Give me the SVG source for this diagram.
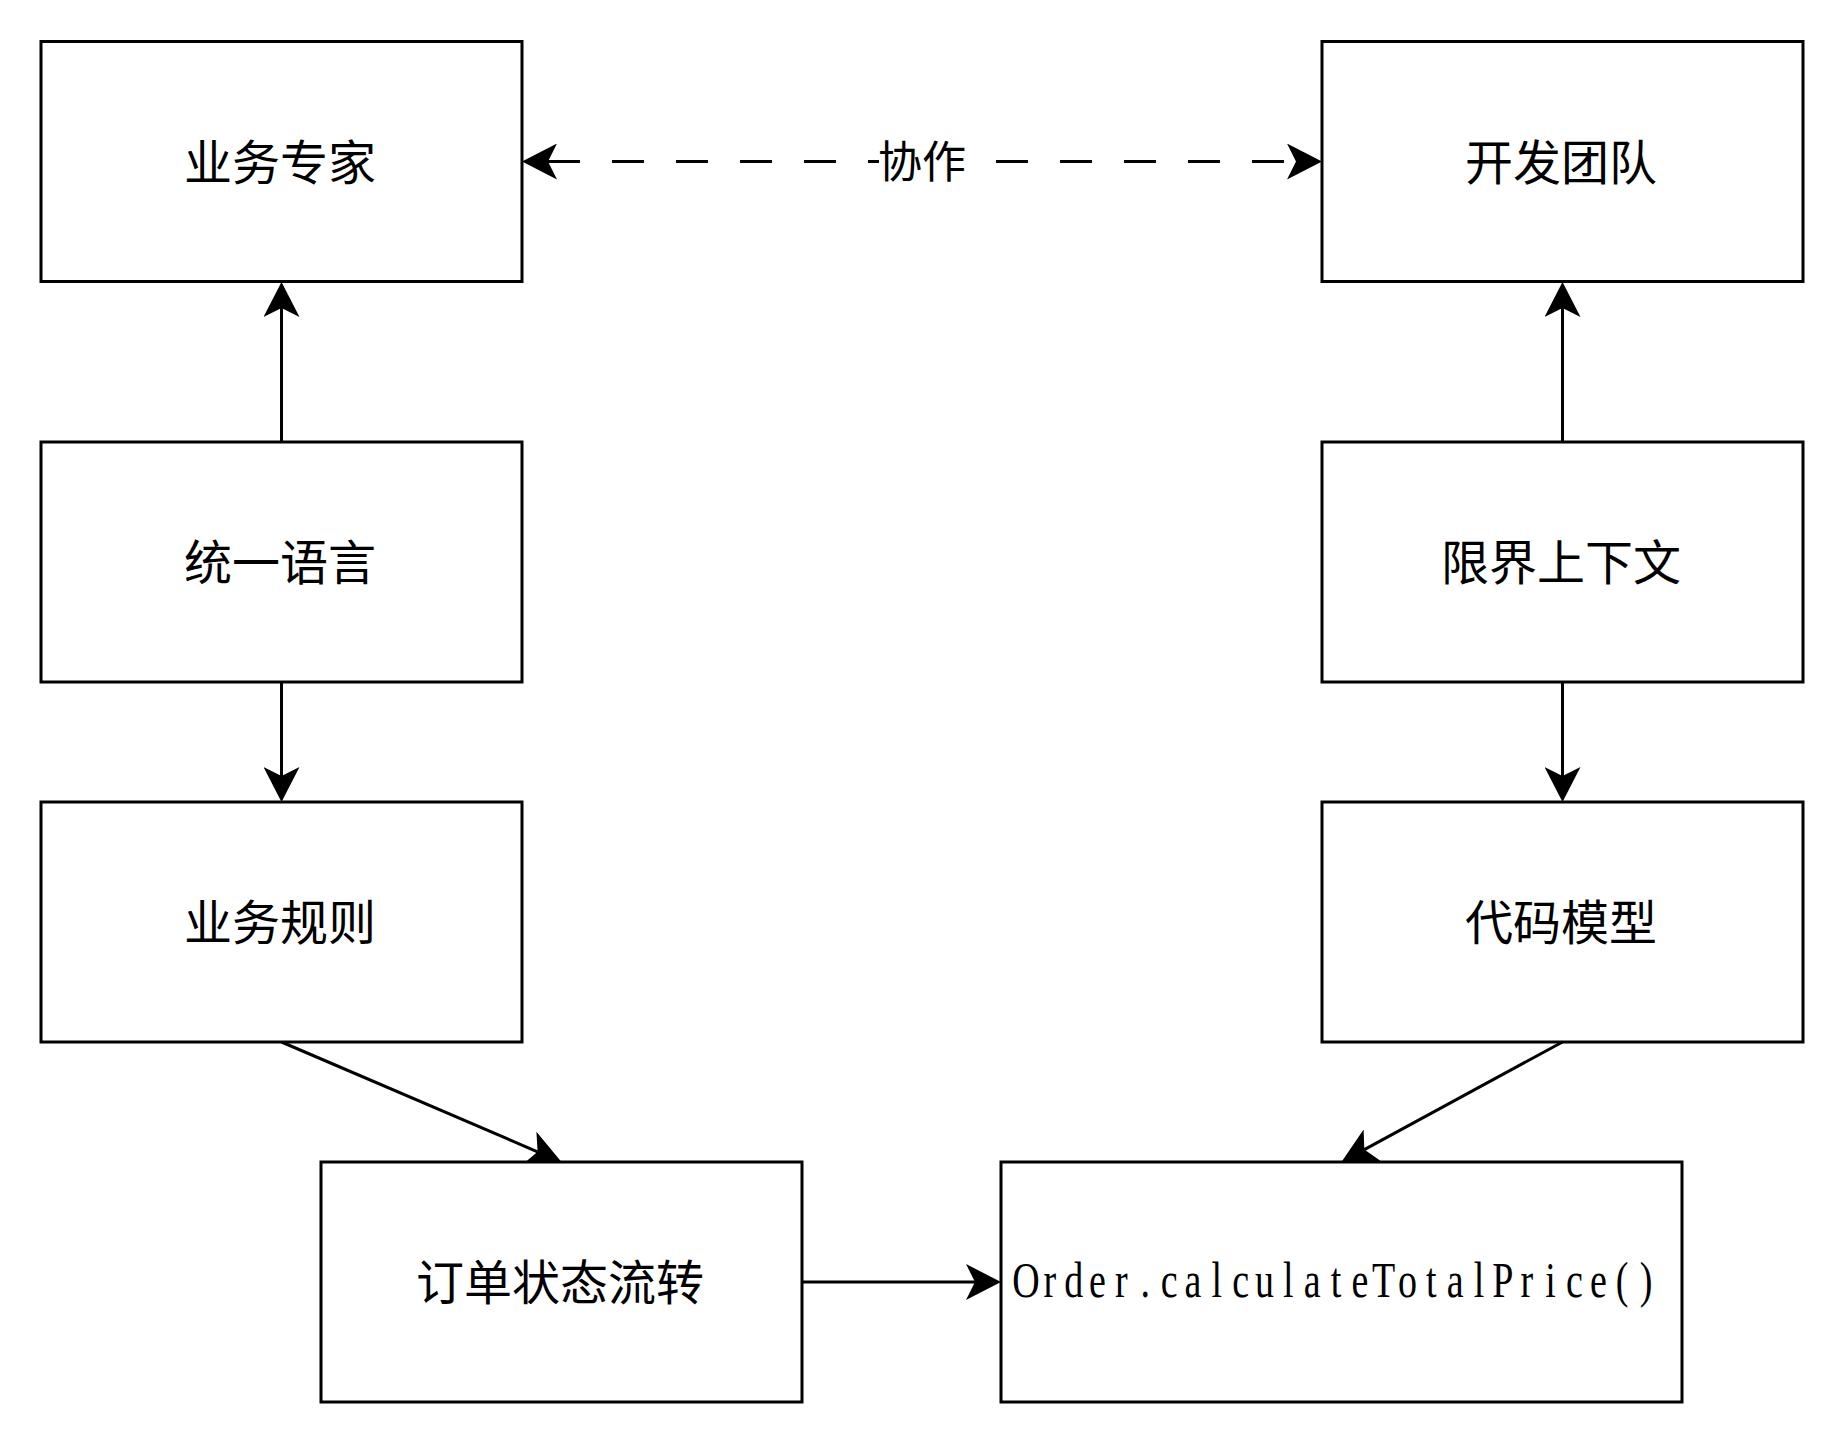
<svg xmlns="http://www.w3.org/2000/svg" width="1844" height="1444" viewBox="0 0 1844 1444">
<style>
.box{fill:#fff;stroke:#000;stroke-width:3}
.lbl{font-family:"Noto Sans CJK SC",sans-serif;font-size:48px;fill:#000;text-anchor:middle}
.edge{stroke:#000;stroke-width:3;fill:none}
.code{font-family:"Liberation Serif",serif;font-size:50px;fill:#000;text-anchor:middle}
</style>
<defs>
<marker id="arr" viewBox="0 0 35 36" refX="9" refY="18" markerWidth="35" markerHeight="36" markerUnits="userSpaceOnUse" orient="auto-start-reverse">
<path d="M0,0 L35,18 L0,36 L9,18 Z" fill="#000" stroke="none"/>
</marker>
</defs>
<rect width="1844" height="1444" fill="#fff"/>
<g id="connectors">
<line class="edge" x1="281.5" y1="442" x2="281.5" y2="308" marker-end="url(#arr)"/>
<line class="edge" x1="281.5" y1="682" x2="281.5" y2="776" marker-end="url(#arr)"/>
<line class="edge" x1="1562.5" y1="442" x2="1562.5" y2="308" marker-end="url(#arr)"/>
<line class="edge" x1="1562.5" y1="682" x2="1562.5" y2="776" marker-end="url(#arr)"/>
<line class="edge" x1="281.5" y1="1042" x2="537.6" y2="1151.8" marker-end="url(#arr)"/>
<line class="edge" x1="1562.5" y1="1042" x2="1364.3" y2="1149.6" marker-end="url(#arr)"/>
<line class="edge" x1="802" y1="1282" x2="975" y2="1282" marker-end="url(#arr)"/>
<g id="collab">
<line class="edge" x1="548" y1="161.5" x2="1296" y2="161.5" stroke-dasharray="32 32" marker-start="url(#arr)" marker-end="url(#arr)"/>
<rect x="879" y="138" width="87" height="48" fill="#fff"/>
<text x="922" y="178" class="lbl" style="font-size:44px">协作</text>
</g>
</g>
<g id="n1"><rect class="box" x="41" y="41.5" width="481" height="240"/><text class="lbl" x="280" y="179.5">业务专家</text></g>
<g id="n2"><rect class="box" x="1322" y="41.5" width="481" height="240"/><text class="lbl" x="1561" y="179.5">开发团队</text></g>
<g id="n3"><rect class="box" x="41" y="442" width="481" height="240"/><text class="lbl" x="280" y="580">统一语言</text></g>
<g id="n4"><rect class="box" x="1322" y="442" width="481" height="240"/><text class="lbl" x="1561" y="580">限界上下文</text></g>
<g id="n5"><rect class="box" x="41" y="802" width="481" height="240"/><text class="lbl" x="280" y="940">业务规则</text></g>
<g id="n6"><rect class="box" x="1322" y="802" width="481" height="240"/><text class="lbl" x="1561" y="940">代码模型</text></g>
<g id="n7"><rect class="box" x="321" y="1162" width="481" height="240"/><text class="lbl" x="560" y="1300">订单状态流转</text></g>
<g id="n8"><rect class="box" x="1001" y="1162" width="681" height="240"/>
<g transform="translate(1336,1297) scale(0.76,1)"><text class="code" x="-407.94 -376.56 -345.18 -313.8 -282.42 -251.04 -219.66 -188.28 -156.9 -125.52 -94.14 -62.76 -31.38 0 31.38 62.76 94.14 125.52 156.9 188.28 219.66 251.04 282.42 313.8 345.18 376.56 407.94" y="0">Order.calculateTotalPrice()</text></g>
</g>
</svg>
